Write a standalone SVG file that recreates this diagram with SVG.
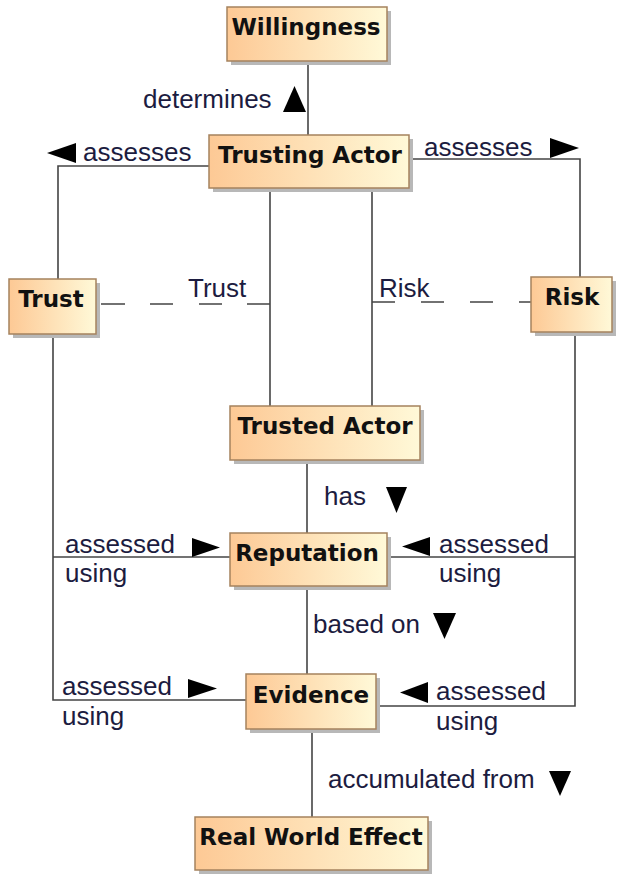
<svg xmlns="http://www.w3.org/2000/svg" width="617" height="875" viewBox="0 0 617 875">
<defs>
<linearGradient id="nodeFill" x1="0" y1="0" x2="1" y2="0">
<stop offset="0" stop-color="#FDC995"/>
<stop offset="1" stop-color="#FFF9D8"/>
</linearGradient>
</defs>
<style>
.shadow{fill:#b8b8b8;}
.box{fill:url(#nodeFill);stroke:#A5825E;stroke-width:1.5;}
.ntext{font-family:"DejaVu Sans",sans-serif;font-weight:bold;font-size:23px;fill:#111;text-anchor:middle;}
.lbl{font-family:"Liberation Sans",Arial,sans-serif;font-size:26px;fill:#1c1c40;}
.ln{fill:none;stroke:#444;stroke-width:1.6;}
.dash{fill:none;stroke:#444;stroke-width:1.6;}
.arr{fill:#000;}
</style>
<rect width="617" height="875" fill="#fff"/>

<g id="connectors">
  <line class="ln" x1="308" y1="61" x2="308" y2="135"/>
  <polyline class="ln" points="209,166 58,166 58,279"/>
  <polyline class="ln" points="409,159 580,159 580,277"/>
  <line class="ln" x1="270" y1="188" x2="270" y2="406"/>
  <line class="ln" x1="372" y1="188" x2="372" y2="406"/>
  <path class="dash" d="M101,304H125M150,304H173M199,304H222M247,304H270"/>
  <path class="dash" d="M372,302H395M421,302H444M470,302H493M519,302H531"/>
  <polyline class="ln" points="53,334 53,700 246,700"/>
  <line class="ln" x1="53" y1="557" x2="230" y2="557"/>
  <polyline class="ln" points="575,332 575,706 376,706"/>
  <line class="ln" x1="575" y1="557" x2="387" y2="557"/>
  <line class="ln" x1="307" y1="460" x2="307" y2="533"/>
  <line class="ln" x1="307" y1="586" x2="307" y2="674"/>
  <line class="ln" x1="312" y1="729" x2="312" y2="817"/>

  <polygon class="arr" points="283,112 306,112 294.5,86"/>
  <polygon class="arr" points="47,153 76,143 76,163"/>
  <polygon class="arr" points="550,138 550,158 579,148"/>
  <polygon class="arr" points="386,487 407,487 396.5,513"/>
  <polygon class="arr" points="192,538 192,557 220,547.5"/>
  <polygon class="arr" points="402,546.5 430,537 430,556"/>
  <polygon class="arr" points="433,613 456,613 444.5,639"/>
  <polygon class="arr" points="188,679 188,698 217,688.5"/>
  <polygon class="arr" points="400,692.5 428,682 428,703"/>
  <polygon class="arr" points="549,771 571,771 560,796"/>

  <text class="lbl" x="143" y="108">determines</text>
  <text class="lbl" x="83" y="161">assesses</text>
  <text class="lbl" x="424" y="156">assesses</text>
  <text class="lbl" x="188" y="297">Trust</text>
  <text class="lbl" x="379" y="297">Risk</text>
  <text class="lbl" x="324" y="505">has</text>
  <text class="lbl" x="65" y="553">assessed</text>
  <text class="lbl" x="65" y="582">using</text>
  <text class="lbl" x="439" y="553">assessed</text>
  <text class="lbl" x="439" y="582">using</text>
  <text class="lbl" x="313" y="633">based on</text>
  <text class="lbl" x="62" y="695">assessed</text>
  <text class="lbl" x="62" y="725">using</text>
  <text class="lbl" x="436" y="700">assessed</text>
  <text class="lbl" x="436" y="730">using</text>
  <text class="lbl" x="328" y="788">accumulated from</text>
</g>

<g id="willingness">
  <rect class="shadow" x="231" y="11" width="160" height="54"/>
  <rect class="box" x="227" y="7" width="160" height="54"/>
  <text class="ntext" x="306" y="35">Willingness</text>
</g>
<g id="trusting-actor">
  <rect class="shadow" x="213" y="139" width="200" height="53"/>
  <rect class="box" x="209" y="135" width="200" height="53"/>
  <text class="ntext" x="310" y="163">Trusting Actor</text>
</g>
<g id="trust">
  <rect class="shadow" x="13" y="283" width="87" height="55"/>
  <rect class="box" x="9" y="279" width="87" height="55"/>
  <text class="ntext" x="51" y="307">Trust</text>
</g>
<g id="risk">
  <rect class="shadow" x="535" y="281" width="81" height="55"/>
  <rect class="box" x="531" y="277" width="81" height="55"/>
  <text class="ntext" x="572" y="305">Risk</text>
</g>
<g id="trusted-actor">
  <rect class="shadow" x="234" y="410" width="190" height="54"/>
  <rect class="box" x="230" y="406" width="190" height="54"/>
  <text class="ntext" x="325" y="434">Trusted Actor</text>
</g>
<g id="reputation">
  <rect class="shadow" x="234" y="537" width="157" height="53"/>
  <rect class="box" x="230" y="533" width="157" height="53"/>
  <text class="ntext" x="307" y="561">Reputation</text>
</g>
<g id="evidence">
  <rect class="shadow" x="250" y="678" width="130" height="55"/>
  <rect class="box" x="246" y="674" width="130" height="55"/>
  <text class="ntext" x="311" y="703">Evidence</text>
</g>
<g id="real-world-effect">
  <rect class="shadow" x="199" y="821" width="233" height="53"/>
  <rect class="box" x="195" y="817" width="233" height="53"/>
  <text class="ntext" x="311" y="845">Real World Effect</text>
</g>
</svg>
